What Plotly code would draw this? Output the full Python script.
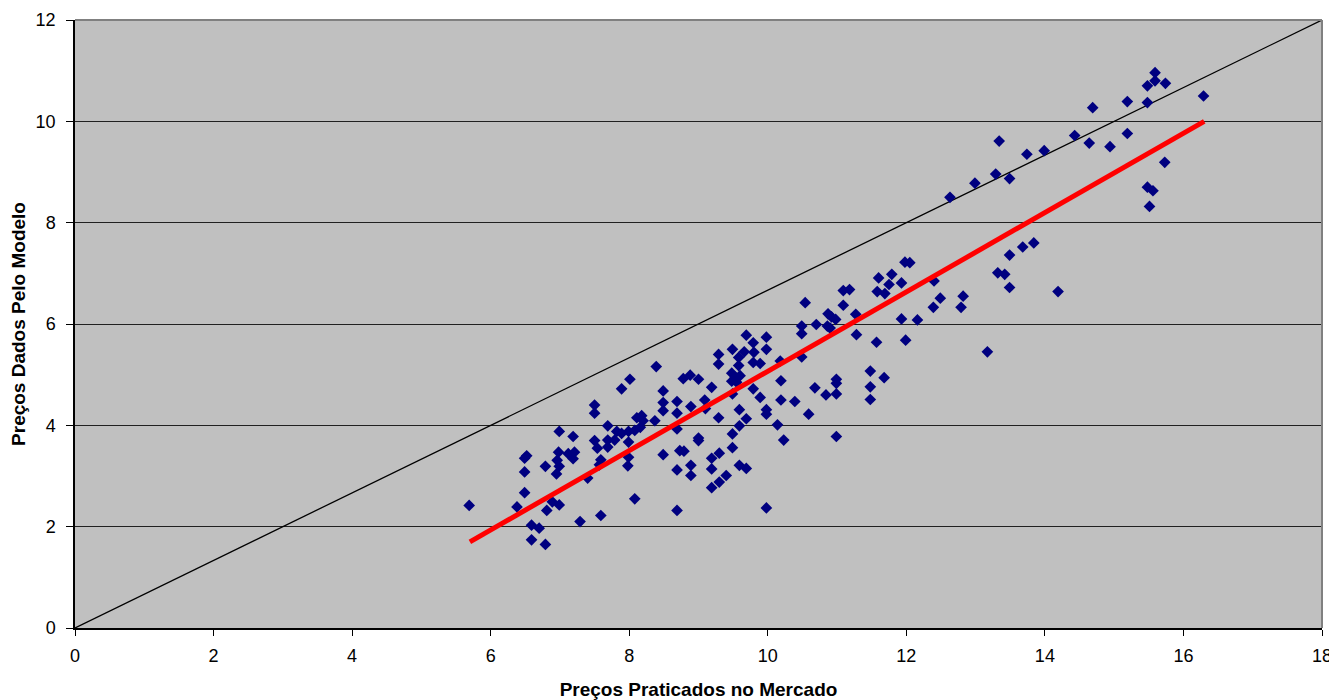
import plotly.graph_objects as go

# Scatter data: (market price, model price)
market_price = [
    5.69, 6.38, 6.49, 6.52, 6.49, 6.49, 6.59, 6.70, 6.59, 6.79,
    6.79, 6.81, 6.89, 6.99, 6.99, 6.98, 6.96, 6.99, 6.95, 7.12,
    7.19, 7.19, 7.21, 7.29, 7.40, 7.50, 7.50, 7.50, 7.54, 7.59,
    7.57, 7.59, 7.69, 7.69, 7.69, 7.79, 7.82, 7.89, 7.89, 8.01,
    7.99, 7.99, 7.99, 7.98, 8.08, 8.08, 8.11, 8.18, 8.20, 8.16,
    8.37, 8.39, 8.49, 8.49, 8.49, 8.49, 8.69, 8.69, 8.69, 8.69,
    8.69, 8.73, 8.79, 8.78, 8.88, 9.00, 8.89, 8.89, 8.89, 9.00,
    9.00, 9.09, 9.10, 9.19, 9.19, 9.19, 9.19, 9.29, 9.29, 9.29,
    9.30, 9.30, 9.40, 9.49, 9.49, 9.49, 9.49, 9.48, 9.53, 9.48,
    9.55, 9.60, 9.58, 9.58, 9.59, 9.59, 9.59, 9.66, 9.69, 9.69,
    9.69, 9.79, 9.80, 9.79, 9.89, 9.79, 9.89, 9.98, 9.98, 9.98,
    9.98, 9.98, 10.14, 10.18, 10.19, 10.19, 10.23, 10.39, 10.49, 10.49,
    10.49, 10.54, 10.59, 10.68, 10.70, 10.84, 10.87, 10.92, 10.98, 10.86,
    10.90, 10.99, 10.99, 10.99, 10.99, 11.09, 11.18, 11.09, 11.27, 11.28,
    11.48, 11.48, 11.48, 11.57, 11.60, 11.58, 11.69, 11.68, 11.75, 11.79,
    11.93, 11.93, 11.99, 11.98, 12.05, 12.16, 12.40, 12.49, 12.39, 12.63,
    12.82, 12.79, 12.99, 13.17, 13.29, 13.34, 13.32, 13.42, 13.49, 13.49,
    13.49, 13.68, 13.74, 13.84, 13.99, 14.19, 14.43, 14.64, 14.69, 14.94,
    15.19, 15.19, 15.48, 15.48, 15.59, 15.59, 15.74, 15.73, 15.48, 15.56,
    15.51, 16.29,
]
model_price = [
    2.42, 2.39, 3.35, 3.40, 3.08, 2.67, 2.03, 1.97, 1.74, 1.65,
    3.19, 2.32, 2.49, 2.43, 3.88, 3.47, 3.31, 3.19, 3.04, 3.44,
    3.78, 3.34, 3.47, 2.10, 2.96, 4.40, 4.24, 3.70, 3.55, 3.32,
    3.22, 2.22, 3.99, 3.71, 3.57, 3.71, 3.88, 3.84, 4.72, 4.91,
    3.88, 3.67, 3.37, 3.20, 2.55, 3.90, 4.15, 4.19, 4.09, 3.96,
    4.09, 5.16, 4.68, 4.45, 4.29, 3.42, 4.47, 4.24, 3.93, 3.12,
    2.32, 3.50, 3.49, 4.92, 4.99, 4.91, 4.37, 3.21, 3.01, 3.75,
    3.70, 4.50, 4.33, 4.75, 3.35, 3.14, 2.77, 5.40, 5.21, 4.15,
    3.45, 2.88, 3.01, 5.50, 4.62, 3.83, 3.56, 5.03, 4.95, 4.87,
    4.85, 4.98, 5.34, 5.18, 4.31, 3.99, 3.21, 5.45, 5.78, 4.13,
    3.15, 5.63, 5.44, 5.24, 5.22, 4.72, 4.55, 5.74, 5.50, 4.31,
    4.22, 2.37, 4.01, 5.27, 4.88, 4.50, 3.71, 4.47, 5.81, 5.96,
    5.35, 6.42, 4.22, 4.74, 5.99, 4.60, 6.20, 6.14, 6.09, 5.96,
    5.92, 4.91, 4.83, 4.62, 3.78, 6.66, 6.68, 6.37, 6.19, 5.79,
    5.07, 4.76, 4.51, 5.64, 6.91, 6.64, 6.60, 4.94, 6.78, 6.98,
    6.81, 6.10, 5.68, 7.22, 7.21, 6.08, 6.85, 6.51, 6.33, 8.50,
    6.55, 6.33, 8.78, 5.45, 8.96, 9.61, 7.01, 6.98, 8.87, 7.36,
    6.72, 7.52, 9.35, 7.60, 9.42, 6.64, 9.72, 9.57, 10.27, 9.50,
    10.39, 9.76, 10.37, 10.70, 10.96, 10.80, 10.75, 9.19, 8.70, 8.63,
    8.32, 10.50,
]

# Reference line (y = 2/3 x) and fitted trend line endpoints
diag_x = [0, 18]
diag_y = [0, 12]
fit_x = [5.7, 16.3]
fit_y = [1.7, 10.0]

x_ticks = [0, 2, 4, 6, 8, 10, 12, 14, 16, 18]
y_ticks = [0, 2, 4, 6, 8, 10, 12]

FONT = "Liberation Sans, Arial, sans-serif"

fig = go.Figure()
fig.add_trace(go.Scatter(x=diag_x, y=diag_y, mode="lines",
                         line=dict(color="black", width=1.3),
                         showlegend=False, hoverinfo="skip"))
fig.add_trace(go.Scatter(x=market_price, y=model_price, mode="markers",
                         marker=dict(symbol="diamond", size=9, color="#000080",
                                     line=dict(width=0)),
                         showlegend=False, cliponaxis=False))
fig.add_trace(go.Scatter(x=fit_x, y=fit_y, mode="lines",
                         line=dict(color="#FF0000", width=5),
                         showlegend=False, hoverinfo="skip"))

# The page body adds an 8px offset, so the figure is sized to fit the window.
fig.update_layout(
    width=1329, height=692,
    margin=dict(l=67, r=15, t=11.5, b=72),
    paper_bgcolor="white",
    plot_bgcolor="#C0C0C0",
    font=dict(family=FONT, size=18, color="black"),
    showlegend=False,
    shapes=[
        dict(type="line", xref="paper", yref="paper", x0=0, x1=1, y0=1, y1=1,
             line=dict(color="#808080", width=2), layer="above"),
        dict(type="line", xref="paper", yref="paper", x0=1, x1=1, y0=0, y1=1,
             line=dict(color="#808080", width=2), layer="above"),
    ],
)
fig.update_xaxes(
    range=[0, 18], tickvals=x_ticks, ticktext=[str(v) for v in x_ticks],
    showgrid=False, zeroline=False, automargin=False,
    showline=True, linecolor="black", linewidth=1.5,
    ticks="outside", ticklen=6, tickcolor="black", tickwidth=1,
    tickfont=dict(family=FONT, size=18),
    ticklabelstandoff=5,
    title=dict(text="<b>Preços Praticados no Mercado</b>",
               font=dict(family=FONT, size=19), standoff=18),
)
fig.update_yaxes(
    range=[0, 12], tickvals=y_ticks, ticktext=[str(v) for v in y_ticks],
    showgrid=True, gridcolor="#202020", gridwidth=1, zeroline=False,
    automargin=False,
    showline=True, linecolor="black", linewidth=1.5,
    ticks="outside", ticklen=7, tickcolor="black", tickwidth=1,
    tickfont=dict(family=FONT, size=18),
    ticklabelstandoff=7,
    title=dict(text="<b>Preços Dados Pelo Modelo</b>",
               font=dict(family=FONT, size=19), standoff=8),
)

fig.write_html("out.html", config={"displayModeBar": False})
